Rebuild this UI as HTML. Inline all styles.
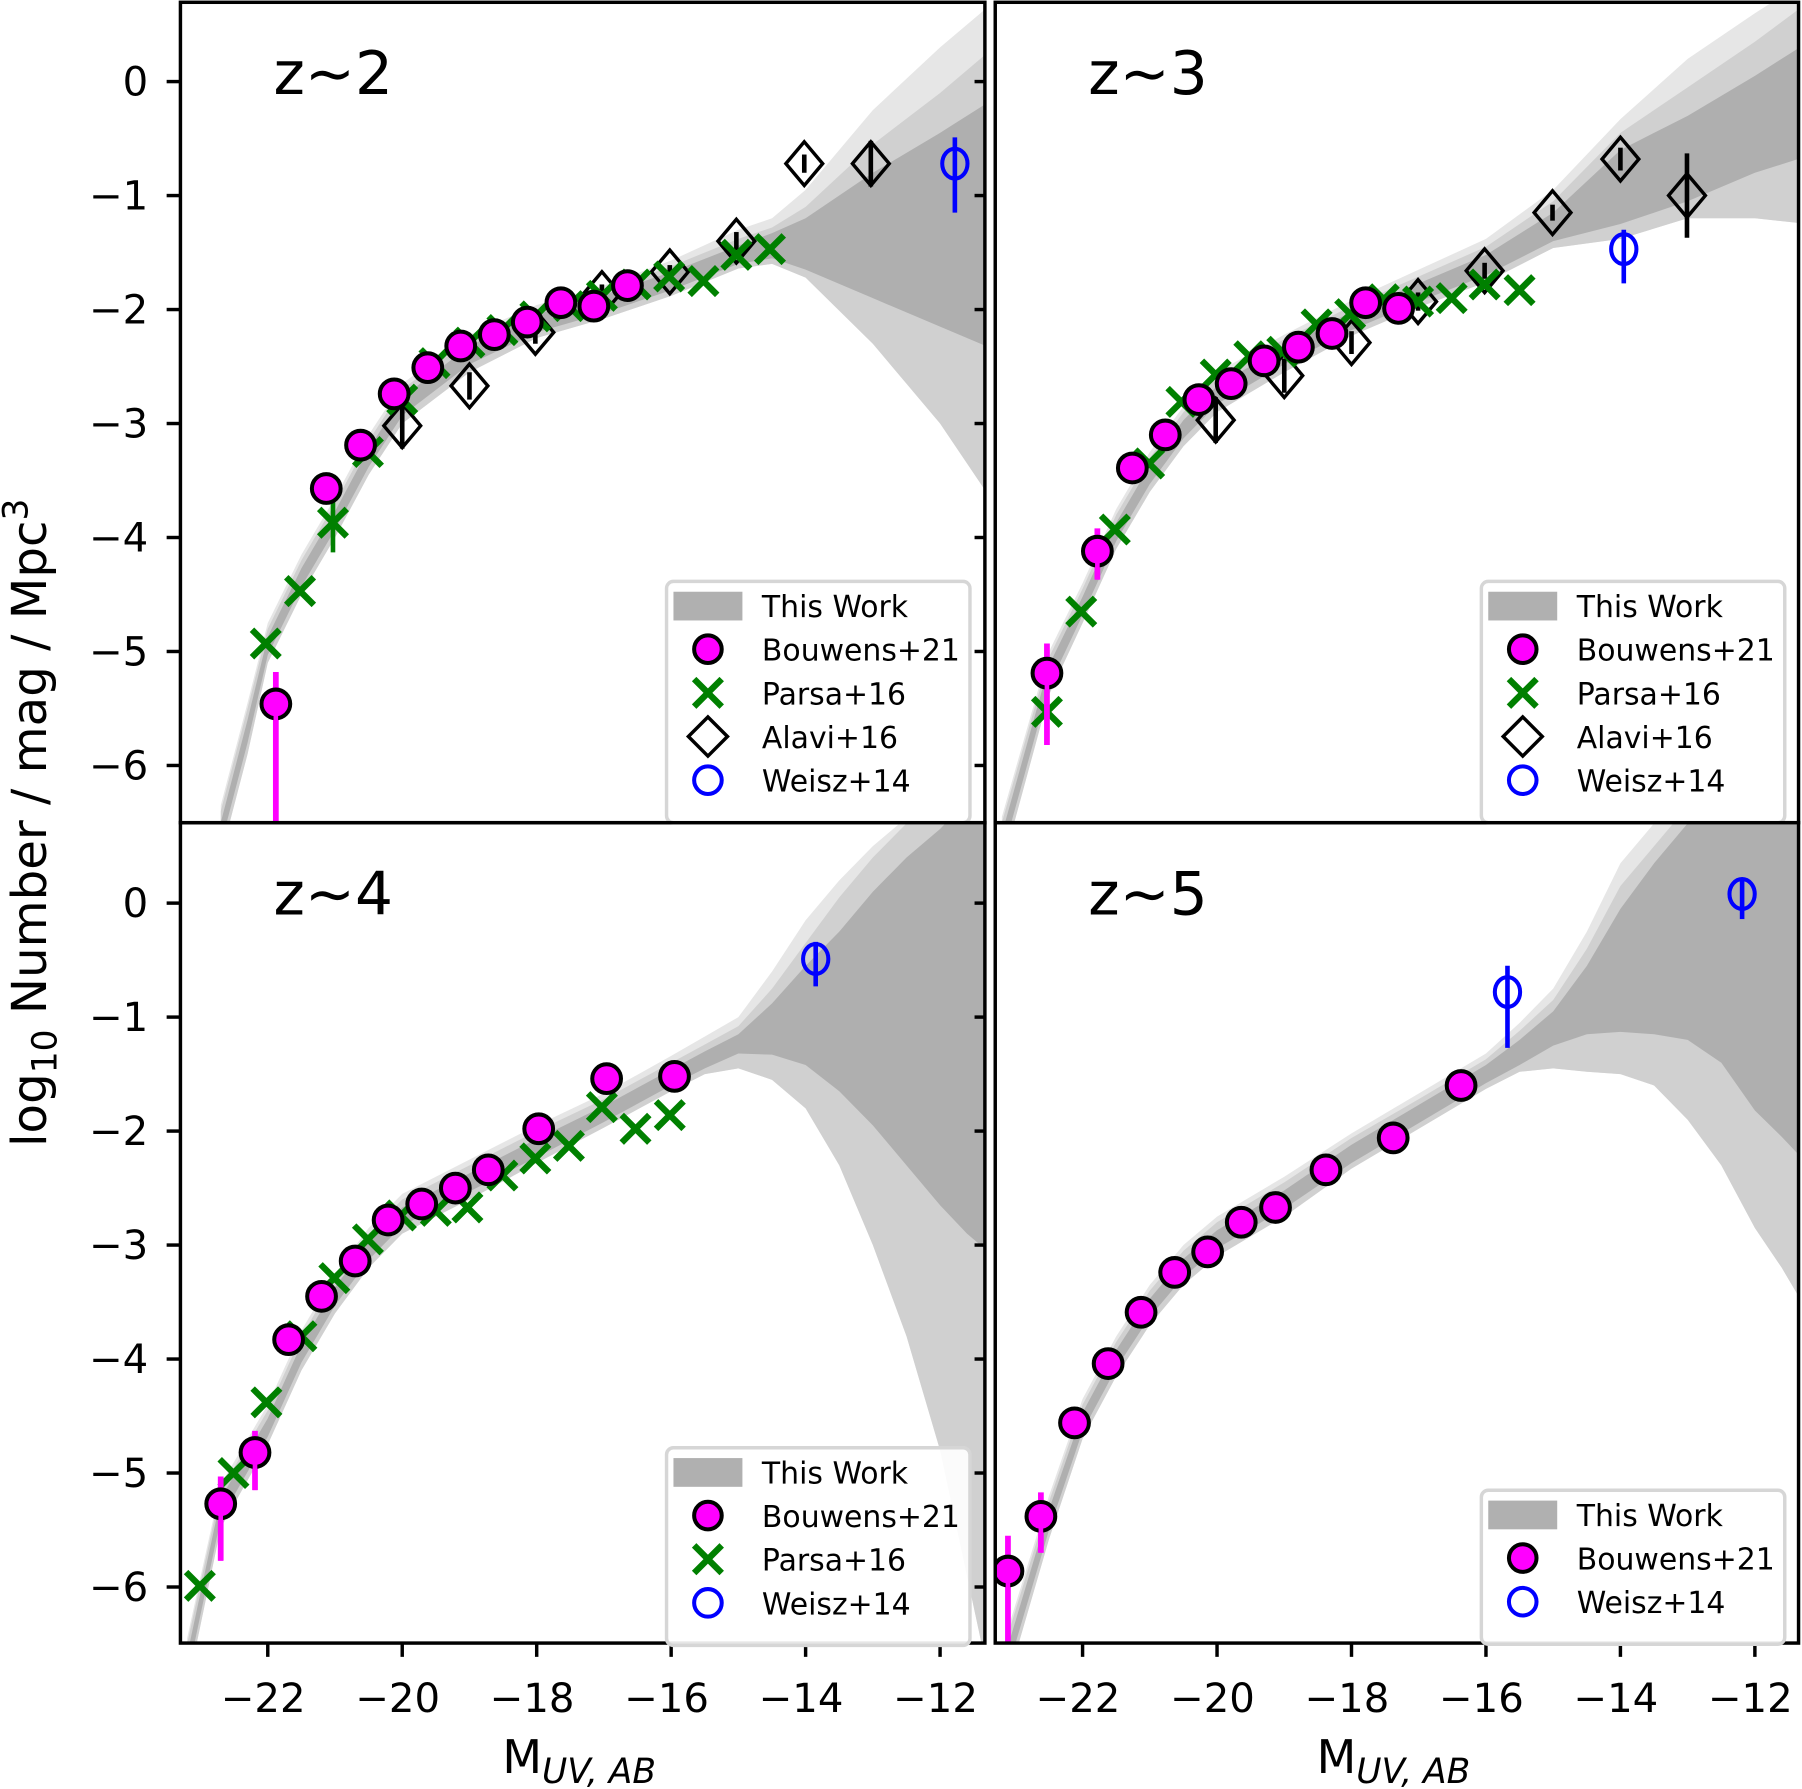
<!DOCTYPE html>
<html><head><meta charset="utf-8"><style>
html,body{margin:0;padding:0;background:#fff;}
svg{display:block;font-family:"DejaVu Sans","Liberation Sans",sans-serif;}
</style></head><body>
<svg id="chart" width="1802" height="1789" viewBox="0 0 1568 1557" preserveAspectRatio="none" xmlns="http://www.w3.org/2000/svg"></svg>
<script>
// ---- data (M_UV, log10 phi) ----
const z2BandM   = [-22.7,-22.3,-22,-21.5,-21,-20.5,-20,-19,-18,-17,-16,-15,-14.5,-14,-13,-12,-11.2];
const z2DarkLo  = [-6.7,-5.8,-5.03,-4.43,-3.93,-3.38,-2.93,-2.48,-2.2,-2.03,-1.83,-1.6,-1.55,-1.65,-1.9,-2.15,-2.35];
const z2DarkHi  = [-6.5,-5.6,-4.87,-4.27,-3.77,-3.22,-2.77,-2.32,-2.04,-1.87,-1.67,-1.44,-1.33,-1.2,-0.8,-0.45,-0.15];
const z2MidLo   = [-6.8,-5.9,-5.1,-4.5,-4.0,-3.45,-3.0,-2.55,-2.25,-2.08,-1.88,-1.64,-1.6,-1.72,-2.3,-3.0,-3.7];
const z2MidHi   = [-6.4,-5.5,-4.8,-4.2,-3.7,-3.15,-2.7,-2.26,-2.0,-1.83,-1.62,-1.38,-1.28,-1.1,-0.55,-0.1,0.3];
const z2LightHi = [-6.35,-5.45,-4.75,-4.15,-3.65,-3.1,-2.65,-2.22,-1.96,-1.79,-1.57,-1.3,-1.2,-0.95,-0.25,0.3,0.7];

const z3BandM   = [-23.2,-22.5,-22,-21.5,-21,-20.5,-20,-19,-18,-17,-16,-15,-14,-13,-12,-11.2];
const z3DarkLo  = [-6.8,-5.3,-4.68,-4.03,-3.53,-3.13,-2.83,-2.48,-2.18,-1.93,-1.7,-1.4,-1.25,-1.05,-0.8,-0.65];
const z3DarkHi  = [-6.6,-5.12,-4.52,-3.87,-3.37,-2.97,-2.67,-2.32,-2.02,-1.77,-1.52,-1.15,-0.6,-0.3,0.05,0.35];
const z3MidLo   = [-6.9,-5.38,-4.75,-4.1,-3.6,-3.2,-2.9,-2.55,-2.23,-1.98,-1.76,-1.46,-1.38,-1.2,-1.2,-1.25];
const z3MidHi   = [-6.5,-5.05,-4.45,-3.8,-3.3,-2.9,-2.6,-2.26,-1.97,-1.71,-1.45,-1.05,-0.45,-0.05,0.35,0.7];
const z3LightHi = [-6.45,-5.0,-4.4,-3.75,-3.25,-2.85,-2.55,-2.22,-1.92,-1.65,-1.38,-0.95,-0.33,0.2,0.6,0.9];

const z4BandM   = [-23.2,-22.7,-22,-21.5,-21,-20.5,-20,-19,-18,-17,-16,-15.5,-15,-14.5,-14,-13.5,-13,-12.5,-12,-11.6,-11.2];
const z4DarkLo  = [-6.8,-5.4,-4.68,-4.03,-3.53,-3.13,-2.83,-2.53,-2.23,-1.92,-1.6,-1.45,-1.32,-1.33,-1.42,-1.65,-1.95,-2.3,-2.65,-2.9,-3.1];
const z4DarkHi  = [-6.6,-5.22,-4.52,-3.87,-3.37,-2.97,-2.67,-2.37,-2.07,-1.78,-1.46,-1.3,-1.15,-0.88,-0.55,-0.25,0.1,0.4,0.65,0.9,1.1];
const z4MidLo   = [-6.9,-5.48,-4.75,-4.1,-3.6,-3.2,-2.9,-2.6,-2.28,-1.97,-1.65,-1.5,-1.45,-1.55,-1.8,-2.3,-3.0,-3.8,-4.8,-5.9,-7.0];
const z4MidHi   = [-6.5,-5.15,-4.45,-3.8,-3.3,-2.9,-2.6,-2.3,-2.0,-1.72,-1.4,-1.24,-1.08,-0.75,-0.35,0.05,0.4,0.7,0.9,1.1,1.2];
const z4LightHi = [-6.45,-5.1,-4.4,-3.75,-3.25,-2.85,-2.55,-2.25,-1.95,-1.67,-1.34,-1.17,-1.0,-0.6,-0.15,0.2,0.5,0.75,1.0,1.2,1.3];

const z5BandM   = [-23.1,-22.5,-22,-21.5,-21,-20.5,-20,-19,-18,-17,-16,-15.5,-15,-14.5,-14,-13.5,-13,-12.5,-12,-11.6,-11.2];
const z5DarkLo  = [-6.7,-5.5,-4.63,-4.08,-3.63,-3.28,-3.03,-2.68,-2.28,-1.93,-1.58,-1.42,-1.25,-1.15,-1.13,-1.15,-1.2,-1.4,-1.82,-2.05,-2.3];
const z5DarkHi  = [-6.5,-5.32,-4.47,-3.92,-3.47,-3.12,-2.87,-2.52,-2.12,-1.77,-1.42,-1.2,-0.95,-0.55,-0.05,0.35,0.7,0.9,1.1,1.2,1.3];
const z5MidLo   = [-6.8,-5.58,-4.7,-4.15,-3.7,-3.35,-3.1,-2.75,-2.33,-1.98,-1.63,-1.48,-1.45,-1.48,-1.5,-1.6,-1.9,-2.3,-2.85,-3.2,-3.6];
const z5MidHi   = [-6.4,-5.25,-4.4,-3.85,-3.4,-3.05,-2.8,-2.45,-2.06,-1.72,-1.37,-1.12,-0.85,-0.4,0.15,0.5,0.85,1.0,1.2,1.3,1.4];
const z5LightHi = [-6.35,-5.2,-4.35,-3.8,-3.35,-3.0,-2.75,-2.4,-2.02,-1.67,-1.32,-1.05,-0.75,-0.25,0.35,0.7,1.0,1.2,1.3,1.4,1.5];

const z2BouM = [-21.88,-21.13,-20.62,-20.12,-19.62,-19.13,-18.63,-18.14,-17.64,-17.15,-16.65];
const z2BouV = [-5.46,-3.57,-3.19,-2.74,-2.51,-2.32,-2.22,-2.11,-1.94,-1.97,-1.79];
const z2BouEUp = [0.28,0.08,0.06,0.05,0.05,0.05,0.05,0.05,0.05,0.05,0.05];
const z2BouEDn = [1.3,0.08,0.06,0.05,0.05,0.05,0.05,0.05,0.05,0.05,0.05];
const z2ParM = [-22.03,-21.52,-21.03,-20.51,-20.0,-19.52,-19.0,-18.51,-18.02,-17.52,-17.03,-16.53,-16.03,-15.52,-15.03,-14.53];
const z2ParV = [-4.93,-4.47,-3.87,-3.25,-2.79,-2.47,-2.29,-2.18,-2.06,-1.97,-1.88,-1.78,-1.71,-1.75,-1.52,-1.47];
const z2ParE = [0.05,0.05,0.26,0.08,0.05,0.05,0.05,0.05,0.05,0.05,0.05,0.05,0.05,0.05,0.05,0.05];
const z2AlaM = [-20.0,-19.0,-18.02,-17.03,-16.02,-15.03,-14.02,-13.03];
const z2AlaV = [-3.02,-2.67,-2.2,-1.86,-1.67,-1.4,-0.72,-0.72];
const z2AlaE = [0.2,0.12,0.1,0.08,0.06,0.08,0.08,0.2];
const z2WeiM = [-11.78];
const z2WeiV = [-0.72];
const z2WeiLo = [-1.15];
const z2WeiHi = [-0.49];

const z3BouM = [-22.53,-21.78,-21.26,-20.77,-20.27,-19.79,-19.30,-18.79,-18.29,-17.79,-17.30];
const z3BouV = [-5.19,-4.12,-3.39,-3.10,-2.79,-2.65,-2.45,-2.33,-2.21,-1.94,-1.99];
const z3BouEUp = [0.26,0.2,0.05,0.05,0.05,0.05,0.05,0.05,0.05,0.05,0.05];
const z3BouEDn = [0.63,0.25,0.05,0.05,0.05,0.05,0.05,0.05,0.05,0.05,0.05];
const z3ParM = [-22.53,-22.02,-21.52,-21.01,-20.53,-20.02,-19.52,-19.03,-18.52,-18.02,-17.52,-17.01,-16.51,-16.02,-15.5];
const z3ParV = [-5.53,-4.65,-3.93,-3.35,-2.81,-2.57,-2.41,-2.37,-2.13,-2.04,-1.91,-1.93,-1.9,-1.78,-1.83];
const z3AlaM = [-20.02,-19.0,-18.0,-17.01,-16.02,-15.01,-14.0,-13.01];
const z3AlaV = [-2.97,-2.58,-2.29,-1.93,-1.66,-1.15,-0.68,-1.0];
const z3AlaE = [0.2,0.15,0.1,0.08,0.07,0.07,0.1,0.37];
const z3WeiM = [-13.95];
const z3WeiV = [-1.47];
const z3WeiLo = [-1.77];
const z3WeiHi = [-1.3];

const z4BouM = [-22.70,-22.19,-21.69,-21.2,-20.70,-20.21,-19.71,-19.21,-18.72,-17.97,-16.96,-15.95];
const z4BouV = [-5.27,-4.82,-3.83,-3.45,-3.14,-2.78,-2.64,-2.5,-2.34,-1.98,-1.54,-1.52];
const z4BouEUp = [0.24,0.19,0.05,0.05,0.05,0.05,0.05,0.05,0.05,0.05,0.05,0.05];
const z4BouEDn = [0.5,0.33,0.05,0.05,0.05,0.05,0.05,0.05,0.05,0.05,0.05,0.05];
const z4ParM = [-23.01,-22.51,-22.02,-21.5,-21.01,-20.51,-20.02,-19.5,-19.03,-18.51,-18.02,-17.52,-17.03,-16.53,-16.02];
const z4ParV = [-5.99,-5.0,-4.38,-3.8,-3.29,-2.95,-2.74,-2.7,-2.67,-2.39,-2.24,-2.13,-1.79,-1.98,-1.86];
const z4WeiM = [-13.85];
const z4WeiV = [-0.49];
const z4WeiLo = [-0.73];
const z4WeiHi = [-0.34];

const z5BouM = [-23.11,-22.62,-22.12,-21.62,-21.13,-20.63,-20.14,-19.64,-19.13,-18.38,-17.38,-16.37];
const z5BouV = [-5.86,-5.38,-4.56,-4.04,-3.59,-3.24,-3.06,-2.80,-2.67,-2.34,-2.06,-1.60];
const z5BouEUp = [0.31,0.21,0.05,0.05,0.05,0.05,0.05,0.05,0.05,0.05,0.05,0.05];
const z5BouEDn = [1.0,0.32,0.05,0.05,0.05,0.05,0.05,0.05,0.05,0.05,0.05,0.05];
const z5WeiM = [-15.68,-12.19];
const z5WeiV = [-0.78,0.08];
const z5WeiLo = [-1.27,-0.14];
const z5WeiHi = [-0.55,0.21];

const xTicks = [-22,-20,-18,-16,-14,-12];
const yTicks = [0,-1,-2,-3,-4,-5,-6];

// ---- drawing ----
const NS = "http://www.w3.org/2000/svg";
const svg = document.getElementById('chart');
function mk(tag, attrs, parent){
  const e = document.createElementNS(NS, tag);
  for (const k in attrs) e.setAttribute(k, attrs[k]);
  (parent||svg).appendChild(e);
  return e;
}
const panels = [
  {name:'z2', label:'z∼2', x0:157, x1:857, y0:2, y1:716, mx:233, my:71, legendX:580, legendY:506, legend:['band','bou','par','ala','wei'], xlab:false, ylab:true},
  {name:'z3', label:'z∼3', x0:866, x1:1565, y0:2, y1:716, mx:942, my:71, legendX:1289, legendY:506, legend:['band','bou','par','ala','wei'], xlab:false, ylab:false},
  {name:'z4', label:'z∼4', x0:157, x1:857, y0:716, y1:1430, mx:233, my:786, legendX:580, legendY:1260, legend:['band','bou','par','wei'], xlab:true, ylab:true},
  {name:'z5', label:'z∼5', x0:866, x1:1565, y0:716, y1:1430, mx:942, my:786, legendX:1289, legendY:1297, legend:['band','bou','wei'], xlab:true, ylab:false}
];
const bands = {
  z2:[z2BandM,z2DarkLo,z2DarkHi,z2MidLo,z2MidHi,z2LightHi],
  z3:[z3BandM,z3DarkLo,z3DarkHi,z3MidLo,z3MidHi,z3LightHi],
  z4:[z4BandM,z4DarkLo,z4DarkHi,z4MidLo,z4MidHi,z4LightHi],
  z5:[z5BandM,z5DarkLo,z5DarkHi,z5MidLo,z5MidHi,z5LightHi]
};
const bou = {z2:[z2BouM,z2BouV,z2BouEUp,z2BouEDn],z3:[z3BouM,z3BouV,z3BouEUp,z3BouEDn],z4:[z4BouM,z4BouV,z4BouEUp,z4BouEDn],z5:[z5BouM,z5BouV,z5BouEUp,z5BouEDn]};
const par = {z2:[z2ParM,z2ParV,z2ParE],z3:[z3ParM,z3ParV,null],z4:[z4ParM,z4ParV,null]};
const ala = {z2:[z2AlaM,z2AlaV,z2AlaE],z3:[z3AlaM,z3AlaV,z3AlaE]};
const wei = {z2:[z2WeiM,z2WeiV,z2WeiLo,z2WeiHi],z3:[z3WeiM,z3WeiV,z3WeiLo,z3WeiHi],z4:[z4WeiM,z4WeiV,z4WeiLo,z4WeiHi],z5:[z5WeiM,z5WeiV,z5WeiLo,z5WeiHi]};

const defs = mk('defs',{});
function drawX(g, cx, cy, s){
  return mk('path',{d:`M${cx-s},${cy-s}L${cx+s},${cy+s}M${cx-s},${cy+s}L${cx+s},${cy-s}`,stroke:'#008000','stroke-width':5.5,fill:'none'},g);
}
function diamond(cx,cy,w,h){return `M${cx},${cy-h}L${cx+w},${cy}L${cx},${cy+h}L${cx-w},${cy}Z`;}

panels.forEach(p=>{
  const X = m => p.mx + (m + 22) * 58.5;
  const Y = v => p.my - v * 99.2;
  const cp = mk('clipPath',{id:'clip-'+p.name},defs);
  mk('rect',{x:p.x0,y:p.y0,width:p.x1-p.x0,height:p.y1-p.y0},cp);
  const g = mk('g',{'clip-path':`url(#clip-${p.name})`});
  
  
  const [BM, dLo, dHi, mLo, mHi, lHi] = bands[p.name];
  function area(lo, hi, col, nm){
    let d = '';
    BM.forEach((m,i)=>{ d += (i?'L':'M') + X(m).toFixed(1) + ',' + Y(hi[i]).toFixed(1); });
    for (let i = BM.length-1; i >= 0; i--) d += 'L' + X(BM[i]).toFixed(1) + ',' + Y(lo[i]).toFixed(1);
    const a = mk('path',{d:d+'Z',fill:col,stroke:'none'},g);
    
    
  }
  area(mLo, lHi, '#e6e6e6', 'band-light');
  area(mLo, mHi, '#d0d0d0', 'band-mid');
  area(dLo, dHi, '#afafaf', 'band-dark');
  if (ala[p.name]) {
    const [am, av, ae] = ala[p.name];
    am.forEach((m,i)=>{
      const cx = X(m), cy = Y(av[i]);
      const el = mk('path',{d:diamond(cx,cy,16,19),fill:'none',stroke:'#000','stroke-width':3},g);
      
      
      mk('line',{x1:cx,x2:cx,y1:Y(av[i]+ae[i]),y2:Y(av[i]-ae[i]),stroke:'#000','stroke-width':4},g);
    });
  }
  if (par[p.name]) {
    const [pm, pv, pe] = par[p.name];
    pm.forEach((m,i)=>{
      const cx = X(m), cy = Y(pv[i]);
      if (pe && pe[i] > 0.1) mk('line',{x1:cx,x2:cx,y1:Y(pv[i]+pe[i]),y2:Y(pv[i]-pe[i]),stroke:'#008000','stroke-width':4},g);
      const el = drawX(g, cx, cy, 12);
      
      
    });
  }
  const [bm, bv, beu, bed] = bou[p.name];
  bm.forEach((m,i)=>{
    const cx = X(m), cy = Y(bv[i]);
    mk('line',{x1:cx,x2:cx,y1:Y(bv[i]+beu[i]),y2:Y(bv[i]-bed[i]),stroke:'#ff00ff','stroke-width':5},g);
    const el = mk('circle',{cx:cx,cy:cy,r:12.5,fill:'#ff00ff',stroke:'#000','stroke-width':3.5},g);
    
    
    mk('line',{x1:cx,x2:cx,y1:cy+6,y2:Math.max(cy+6,Y(bv[i]-bed[i])),stroke:'#ff00ff','stroke-width':4},g);
  });
  const [wm, wv, wlo, whi] = wei[p.name];
  wm.forEach((m,i)=>{
    const cx = X(m), cy = Y(wv[i]);
    mk('line',{x1:cx,x2:cx,y1:Y(whi[i]),y2:Y(wlo[i]),stroke:'#0000ff','stroke-width':4},g);
    const el = mk('ellipse',{cx:cx,cy:cy,rx:11,ry:13,fill:'none',stroke:'#0000ff','stroke-width':3.5},g);
    
    
  });
  const fr = mk('rect',{x:p.x0,y:p.y0,width:p.x1-p.x0,height:p.y1-p.y0,fill:'none',stroke:'#000','stroke-width':3});
  
  
  yTicks.forEach(t=>{
    const y = Y(t);
    if (p.ylab) {
      mk('line',{x1:p.x0-12,x2:p.x0,y1:y,y2:y,stroke:'#000','stroke-width':3});
      const tl = mk('text',{x:p.x0-28,y:y+12,'text-anchor':'end','font-size':35});
      tl.textContent = t===0 ? '0' : '−' + Math.abs(t);
      
      
      mk('line',{x1:p.x1-9,x2:p.x1,y1:y,y2:y,stroke:'#000','stroke-width':3});
    }
  });
  if (p.xlab) {
    xTicks.forEach(t=>{
      const x = X(t);
      mk('line',{x1:x,x2:x,y1:p.y1,y2:p.y1+12,stroke:'#000','stroke-width':3});
      const tl = mk('text',{x:x-4,y:p.y1+60,'text-anchor':'middle','font-size':35});
      tl.textContent = '−' + Math.abs(t);
      
      
    });
    const xt = mk('text',{x:(p.x0+p.x1)/2 - 3,y:1543,'text-anchor':'middle','font-size':40});
    xt.innerHTML = 'M<tspan font-size="30" font-style="italic" dy="9">UV, AB</tspan>';
    
    
  }
  const zl = mk('text',{x:p.x0+81,y:p.y0+80,'font-size':52});
  zl.textContent = p.label;
  
  
  const lg = mk('g',{});
  
  
  const n = p.legend.length;
  const h = 12 + n*38 + 8;
  mk('rect',{x:p.legendX,y:p.legendY,width:264,height:h,rx:6,fill:'#fff','fill-opacity':0.9,stroke:'#d6d6d6','stroke-width':3},lg);
  const names = {band:'This Work',bou:'Bouwens+21',par:'Parsa+16',ala:'Alavi+16',wei:'Weisz+14'};
  p.legend.forEach((k,i)=>{
    const cy = p.legendY + 21 + i*38;
    const mx = p.legendX + 36;
    const e = mk('g',{},lg);
    
    
    if (k==='band') mk('rect',{x:p.legendX+6,y:cy-12,width:60,height:25,fill:'#b0b0b0'},e);
    if (k==='bou') mk('circle',{cx:mx,cy:cy,r:12,fill:'#ff00ff',stroke:'#000','stroke-width':3.5},e);
    if (k==='par') drawX(e, mx, cy, 12);
    if (k==='ala') mk('path',{d:diamond(mx,cy,17,17),fill:'none',stroke:'#000','stroke-width':3},e);
    if (k==='wei') mk('circle',{cx:mx,cy:cy,r:12,fill:'none',stroke:'#0000ff','stroke-width':3.5},e);
    const t = mk('text',{x:p.legendX+83,y:cy+10,'font-size':26},e);
    t.textContent = names[k];
  });
});
const yl = mk('text',{x:0,y:0,'text-anchor':'middle','font-size':42,transform:'translate(40,716) rotate(-90)'});
yl.innerHTML = 'log<tspan font-size="30" dy="9">10</tspan><tspan dy="-9"> Number / mag / Mpc</tspan><tspan font-size="30" dy="-16">3</tspan>';


</script>
</body></html>
